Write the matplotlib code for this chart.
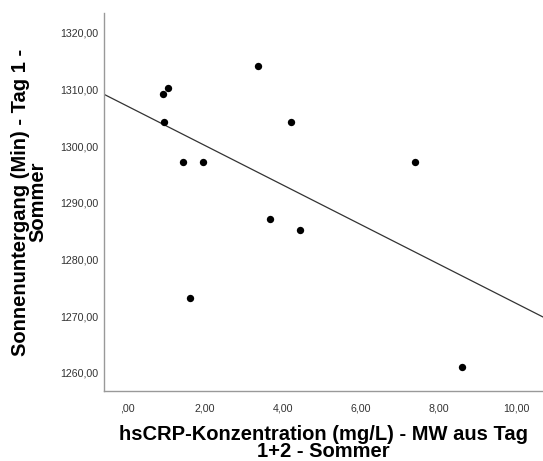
import matplotlib
matplotlib.use("Agg")
import matplotlib.pyplot as plt
from matplotlib.ticker import FuncFormatter
import numpy as np

# hsCRP (mg/L) vs. Sonnenuntergang (Min)
crp = [0.93, 1.06, 0.96, 1.44, 1.95, 3.35, 3.66, 4.20, 7.38, 4.45, 1.62, 8.58]
sunset = [1309.2, 1310.2, 1304.2, 1297.2, 1297.2, 1314.2, 1287.2, 1304.2,
          1297.2, 1285.2, 1273.2, 1261.1]

# fit line as shown in the chart
fit_intercept = 1307.1
fit_slope = -3.49

xticks = [0, 2, 4, 6, 8, 10]
yticks = [1260, 1270, 1280, 1290, 1300, 1310, 1320]


def komma(v, pos):
    s = f"{v:.2f}".replace(".", ",")
    if s.startswith("0,"):
        s = s[1:]
    return s


plt.rcParams["font.family"] = ["Liberation Sans", "DejaVu Sans"]

fig = plt.figure(figsize=(5.43, 4.61), dpi=100)
ax = fig.add_axes([0.1915, 0.1518, 0.8085, 0.82])

ax.scatter(crp, sunset, s=28, color="black", zorder=3, linewidths=0)
ax.axline((0, fit_intercept), slope=fit_slope, color="#333333", lw=0.9)

ax.set_xlim(-0.59, 10.67)
ax.set_ylim(1256.8, 1323.5)
ax.set_xticks(xticks)
ax.set_yticks(yticks)
ax.xaxis.set_major_formatter(FuncFormatter(komma))
ax.yaxis.set_major_formatter(FuncFormatter(komma))
ax.tick_params(axis="both", length=0, labelsize=7.7, labelcolor="#333333")
ax.tick_params(axis="x", pad=9)
ax.tick_params(axis="y", pad=4)

for side in ["top", "right"]:
    ax.spines[side].set_visible(False)
for side in ["left", "bottom"]:
    ax.spines[side].set_color("#999999")
    ax.spines[side].set_linewidth(1.0)

ax.set_xlabel("hsCRP-Konzentration (mg/L) - MW aus Tag\n1+2 - Sommer",
              fontsize=14.5, fontweight="bold", linespacing=0.88, labelpad=8)
ax.set_ylabel("Sonnenuntergang (Min) - Tag 1 -\nSommer",
              fontsize=14.5, fontweight="bold", linespacing=0.92, labelpad=9)

fig.savefig("out.png", dpi=100)
